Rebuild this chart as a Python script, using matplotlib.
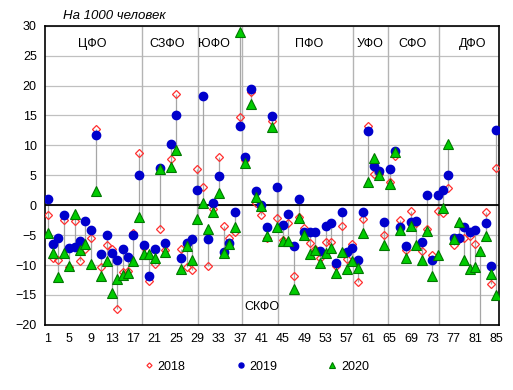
import numpy as np
import matplotlib.pyplot as plt

plt.rcParams['font.family'] = ['Liberation Sans', 'DejaVu Sans']

# region numbers 1..85, values per 1000 people
regions = np.arange(1, 86)

v2018 = [-1.6, -8.9, -9.2, -2.5, -10.4, -2.7, -9.4, -7.4, -5.4, 12.7,
         -10.3, -6.6, -7.4, -17.3, -11.2, -11.0, -4.6, 8.7, -7.0, -12.7,
         -9.8, -3.9, -7.5, 7.7, 18.6, -7.4, -10.3, -10.8, 6.0, 3.1,
         -10.2, -0.7, 8.0, -3.4, -5.4, -4.4, 14.8, 7.5, 19.0, 0.4,
         -1.6, -5.5, 14.0, -2.1, -5.8, -2.9, -11.9, -2.0, -3.8, -6.3,
         -7.3, -8.8, -6.1, -6.1, -10.2, -3.4, -9.0, -6.5, -12.9, -2.3,
         13.2, 5.3, 5.2, -5.0, 3.8, 8.2, -2.5, -7.5, -0.9, -2.9,
         -7.7, -4.0, -8.3, -0.9, -1.3, 2.8, -6.6, -5.6, -5.4, -5.2,
         -6.5, -24.0, -1.2, -13.1, 6.3]

v2019 = [1.1, -6.4, -5.4, -1.6, -7.1, -7.0, -6.0, -2.7, -4.1, 11.8,
         -8.1, -4.9, -8.0, -9.1, -7.4, -8.6, -5.0, 5.0, -6.6, -11.8,
         -7.3, 6.2, -6.3, 10.2, 15.0, -8.9, -6.3, -5.6, 2.6, 18.3,
         -5.6, 0.3, 4.9, -7.8, -6.3, -1.1, 13.3, 8.0, 19.4, 2.4,
         0.0, -3.6, 14.9, 3.0, -3.3, -1.4, -6.8, 1.1, -4.4, -4.5,
         -4.4, -7.7, -3.5, -3.0, -9.6, -1.1, -7.9, -7.1, -9.1, -1.2,
         12.4, 6.5, 5.7, -2.8, 6.0, 9.0, -3.6, -6.8, -2.8, -2.7,
         -6.2, 1.7, -9.1, 1.7, 2.6, 5.1, -5.4, -5.4, -3.6, -4.4,
         -4.1, -23.0, -3.0, -10.2, 12.6]

v2020 = [-4.7, -8.0, -12.0, -8.0, -10.2, -1.4, -7.5, -6.5, -9.8, 2.3,
         -11.9, -9.4, -14.6, -12.3, -11.7, -11.4, -9.3, -2.0, -8.2, -8.2,
         -8.8, 6.0, -7.9, 6.4, 9.2, -10.7, -6.8, -9.2, -2.3, 0.4,
         -4.0, -1.1, 2.1, -8.0, -6.4, -3.6, 28.9, 7.1, 16.9, 1.4,
         -0.2, -5.1, 13.1, -3.6, -5.9, -5.9, -14.0, -2.1, -5.0, -8.1,
         -7.5, -9.6, -8.0, -7.1, -11.4, -7.8, -10.6, -9.3, -10.5, -4.6,
         3.9, 7.9, 5.0, -6.6, 3.6, 8.9, -4.1, -8.8, -3.5, -6.6,
         -9.1, -4.3, -11.9, -8.4, -0.4, 10.3, -5.6, -2.8, -9.1, -10.6,
         -10.3, -7.7, -5.2, -11.5, -15.0]

# federal districts: label and where it sits on the chart
districts = ["ЦФО", "СЗФО", "ЮФО", "СКФО", "ПФО", "УФО", "СФО", "ДФО"]
district_x = [9.4, 23.3, 32.1, 41.1, 49.9, 61.4, 69.2, 80.6]
district_y = [27.0, 27.0, 27.0, -17.0, 27.0, 27.0, 27.0, 27.0]
borders = [18.7, 29.1, 37.3, 44.1, 58.2, 64.6, 74.2]

fig = plt.figure(figsize=(5.13, 3.90), dpi=100)
ax = fig.add_axes([0.088, 0.167, 0.885, 0.767])

all_vals = np.vstack([v2018, v2019, v2020])
ax.vlines(regions, all_vals.min(axis=0), all_vals.max(axis=0),
          color='#a6a6a6', lw=0.9, zorder=1)
for b in borders:
    ax.axvline(b, color='#b4b4b4', lw=1.0, zorder=1)

ax.plot(regions, v2018, ls='none', marker='D', ms=4.3, mfc='none',
        mec='#ff3030', mew=0.9, label='2018', zorder=3)
ax.plot(regions, v2019, ls='none', marker='o', ms=6, mfc='#0000cc',
        mec='#0000cc', label='2019', zorder=4)
ax.plot(regions, v2020, ls='none', marker='^', ms=7.5, mfc='#00cc00',
        mec='#007700', mew=0.8, label='2020', zorder=5)

ax.axhline(0, color='black', lw=1.3, zorder=2)

for name, x, y in zip(districts, district_x, district_y):
    ax.text(x, y, name, ha='center', va='center', fontsize=9)

ax.set_xlim(0.5, 85.5)
ax.set_ylim(-20, 30)
ax.set_xticks(np.arange(1, 86, 4))
ax.set_yticks(np.arange(-20, 31, 5))
ax.yaxis.grid(True, color='#c0c0c0', lw=0.9)
ax.set_axisbelow(True)
ax.tick_params(length=0, labelsize=9, pad=6)
for s in ax.spines.values():
    s.set_color('black')
    s.set_linewidth(1.2)

fig.text(0.123, 0.958, "На 1000 человек", style='italic', fontsize=9.5,
         va='center')

fig.legend(loc='center', bbox_to_anchor=(0.5, 0.06), ncol=3, frameon=False,
           markerscale=0.6, fontsize=9, handlelength=0.8, handletextpad=0.3,
           columnspacing=4.0)

fig.savefig("out.png", dpi=100)
